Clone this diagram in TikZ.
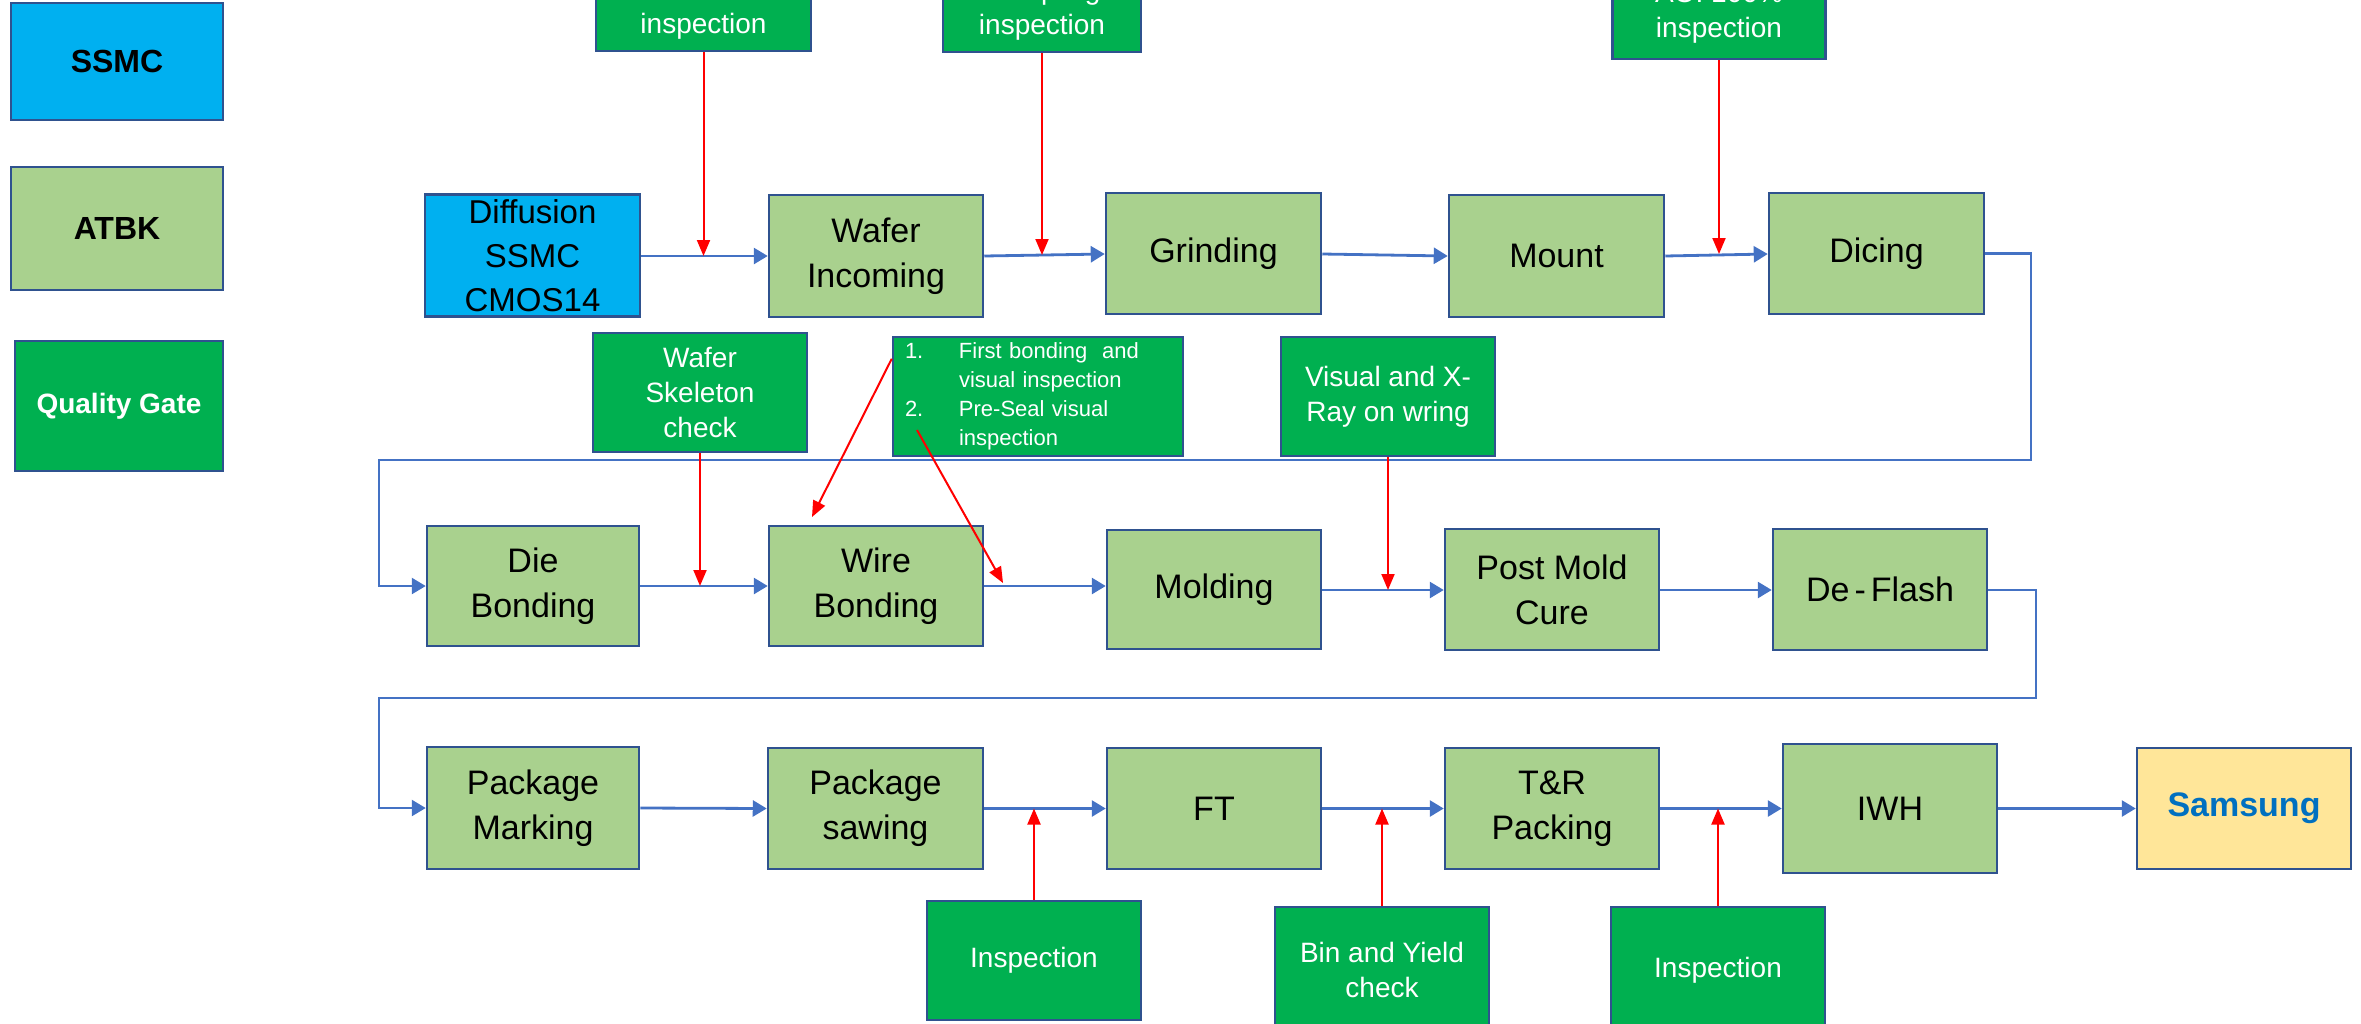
\documentclass[tikz,border=0pt]{standalone}
\usepackage{fontspec}
\setmainfont{Liberation Sans}
\usetikzlibrary{arrows.meta,calc}
\definecolor{ssmcblue}{HTML}{00B0F0}
\definecolor{atbkgreen}{HTML}{A9D18E}
\definecolor{gategreen}{HTML}{00B050}
\definecolor{edgeblue}{HTML}{2F528F}
\definecolor{flowblue}{HTML}{4472C4}
\definecolor{custyellow}{HTML}{FFE699}
\definecolor{custtext}{HTML}{0070C0}
\definecolor{gatered}{HTML}{FF0000}

\begin{document}
\begin{tikzpicture}[x=1pt,y=-1pt,
  base/.style={draw=edgeblue,line width=2.5pt,rectangle,inner sep=0pt,align=center},
  wh/.style 2 args={minimum width=#1,minimum height=#2},
  proc/.style={base,fill=atbkgreen,font=\fontsize{34}{45}\selectfont},
  src/.style={base,fill=ssmcblue,font=\fontsize{33}{44}\selectfont},
  cust/.style={base,fill=custyellow,text=custtext,font=\fontsize{34}{42}\selectfont\bfseries},
  qgate/.style={base,fill=gategreen,text=white,font=\fontsize{28}{35}\selectfont},
  legend/.style={base,font=\fontsize{32}{40}\selectfont\bfseries},
  flow/.style={draw=flowblue,line width=2.8pt,-{Triangle[length=14pt,width=16pt]}},
  loopline/.style={draw=flowblue,line width=2.5pt,-{Triangle[length=14pt,width=16pt]}},
  check/.style={draw=gatered,line width=2pt,-{Triangle[length=16pt,width=13pt]}}
]
\useasboundingbox (0,0) rectangle (2361,1023);
\clip (0,0) rectangle (2361,1023);

% legend
\node[legend,fill=ssmcblue,wh={212}{117}] (lssmc) at (117,61.5) {SSMC};
\node[legend,fill=atbkgreen,wh={212}{123}] (latbk) at (117,228.5) {ATBK};
\node[legend,fill=gategreen,text=white,wh={208}{130},font=\fontsize{28}{34}\selectfont\bfseries] (lqg) at (119,406) {Quality Gate};

% first row of process steps
\node[src,wh={215}{122}] (diff) at (532.5,255.5) {Diffusion\\SSMC\\CMOS14};
\node[proc,wh={214}{122}] (wafer) at (876,256) {Wafer\\Incoming};
\node[proc,wh={215}{121}] (grind) at (1213.5,253.5) {Grinding};
\node[proc,wh={215}{122}] (mount) at (1556.5,256) {Mount};
\node[proc,wh={215}{121}] (dice) at (1876.5,253.5) {Dicing};

% gates above the first row
\node[qgate,wh={215}{83}] (g1) at (703.5,9.5) {AOI 100\%\\inspection};
\node[qgate,wh={198}{84}] (g2) at (1042,10) {Sampling\\inspection};
\node[qgate,wh={213}{92}] (g3) at (1719,13) {AOI 100\%\\inspection};

% second row of process steps
\node[proc,wh={212}{120}] (die) at (533,586) {Die\\Bonding};
\node[proc,wh={214}{120}] (wire) at (876,586) {Wire\\Bonding};
\node[proc,wh={214}{119}] (mold) at (1214,589.5) {Molding};
\node[proc,wh={214}{121}] (pmc) at (1552,589.5) {Post Mold\\Cure};
\node[proc,wh={214}{121}] (flash) at (1880,589.5) {De\kern5pt-\kern5pt Flash};

% gates above the second row
\node[qgate,wh={214}{119}] (skel) at (700,392.5) {Wafer\\Skeleton\\check};
\node[qgate,wh={290}{119},text width=266,align=left,font=\fontsize{22}{29}\selectfont] (bond) at (1038,396.5)
  {\makebox[54pt][l]{1.}First bonding \ and\\
   \hspace*{54pt}visual inspection\\
   \makebox[54pt][l]{2.}Pre-Seal visual\\
   \hspace*{54pt}inspection};
\node[qgate,wh={214}{119}] (xray) at (1388,396.5) {Visual and X-\\Ray on wring};

% third row of process steps
\node[proc,wh={212}{122}] (mark) at (533,808) {Package\\Marking};
\node[proc,wh={215}{121}] (saw) at (875.5,808.5) {Package\\sawing};
\node[proc,wh={214}{121}] (ft) at (1214,808.5) {FT};
\node[proc,wh={214}{121}] (tr) at (1552,808.5) {T\&R\\Packing};
\node[proc,wh={214}{129}] (iwh) at (1890,808.5) {IWH};
\node[cust,wh={214}{121}] (sam) at (2244,808.5) {Samsung};

% gates below the third row
\node[qgate,wh={214}{119}] (i1) at (1034,960.5) {Inspection};
\node[qgate,wh={214}{125}] (bin) at (1382,969.5) {Bin and Yield\\check};
\node[qgate,wh={214}{126}] (i2) at (1718,970) {Inspection};

% turn points of the row-to-row connectors
\coordinate (r1) at (2031,460);
\coordinate (l1) at (379,460);
\coordinate (r2) at (2036,698);
\coordinate (l2) at (379,698);

% end points of the two bonding checks
\coordinate (b1s) at ($(bond.north west)+(0,23)$);
\coordinate (b1t) at (812,517);
\coordinate (b2s) at (917,430);
\coordinate (b2t) at (1003,583);

% main flow
\draw[flow] (diff.east |- 0,256) -- (wafer.west |- 0,256);
\draw[flow] (wafer.east |- 0,256) -- (grind.west |- 0,254);
\draw[flow] (grind.east |- 0,254) -- (mount.west |- 0,256);
\draw[flow] (mount.east |- 0,256) -- (dice.west |- 0,254);
\draw[loopline] (dice.east) -| (r1) -- (l1) |- (die.west);
\draw[flow] (die.east) -- (wire.west);
\draw[flow] (wire.east) -- (wire.east -| mold.west);
\draw[flow] (mold.east |- 0,590) -- (pmc.west |- 0,590);
\draw[flow] (pmc.east |- 0,590) -- (flash.west |- 0,590);
\draw[loopline] (flash.east |- 0,590) -| (r2) -- (l2) |- (mark.west);
\draw[flow] (mark.east) -- (saw.west);
\draw[flow] (saw.east) -- (ft.west);
\draw[flow] (ft.east) -- (tr.west);
\draw[flow] (tr.east) -- (iwh.west);
\draw[flow] (iwh.east) -- (sam.west);

% quality gate checks
\draw[check] (g1.south) -- (g1.south |- 0,256);
\draw[check] (g2.south) -- (g2.south |- 0,255);
\draw[check] (g3.south) -- (g3.south |- 0,254);
\draw[check] (skel.south) -- (skel.south |- die.east);
\draw[check] (b1s) -- (b1t);
\draw[check] (b2s) -- (b2t);
\draw[check] (xray.south) -- (xray.south |- 0,590);
\draw[check] (i1.north) -- (i1.north |- saw.east);
\draw[check] (bin.north) -- (bin.north |- ft.east);
\draw[check] (i2.north) -- (i2.north |- tr.east);
\end{tikzpicture}
\end{document}
